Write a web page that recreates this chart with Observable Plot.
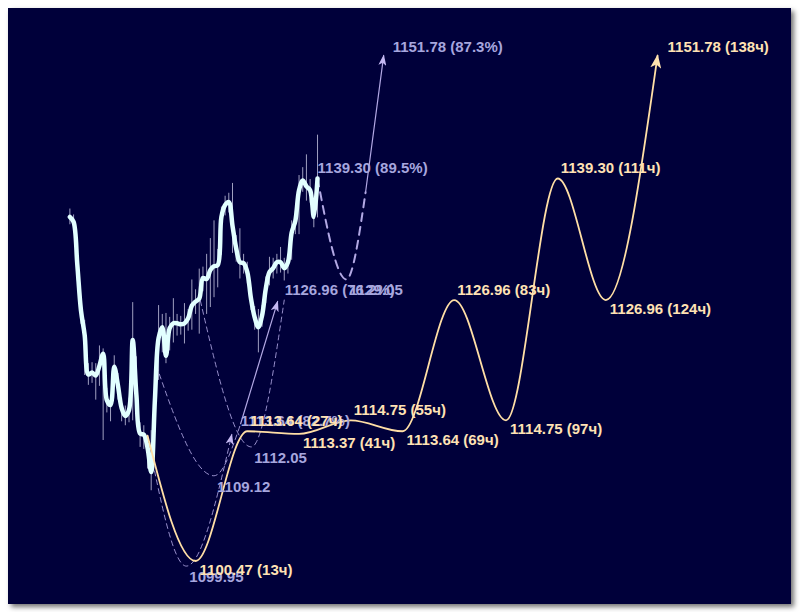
<!DOCTYPE html>
<html><head><meta charset="utf-8">
<script src="https://cdn.jsdelivr.net/npm/d3@7"></script>
<script src="https://cdn.jsdelivr.net/npm/@observablehq/plot@0.6"></script>
<style>
html,body{margin:0;padding:0;background:#fff;}
#wrap{position:relative;width:800px;height:612px;overflow:hidden;}
#panel{position:absolute;left:8px;top:8px;width:783px;height:596px;background:#00003a;box-shadow:3px 3px 5px rgba(0,0,0,0.55);}
#chart{position:absolute;left:0;top:0;}
</style></head><body>
<div id="wrap"><div id="panel"></div><div id="chart"></div></div>
<script>
// ---- price bars (hour index relative to forecast start) ----
const barHours = [-21,-20,-19,-18,-17,-16,-15,-14,-13,-12,-11,-10,-9,-8,-7,-6,-5,-4,-3,-2,-1,0,1,2,3,4,5,6,7,8,9,10,11,12,13,14,15,16,17,18,19,20,21,22,23,24,25,26,27,28,29,30,31,32,33,34,35,36,37,38,39,40,41,42,43,44,45,46];
const barClose = [1135.4,1134.9,1130.6,1125.9,1123.4,1119.4,1119.6,1119.3,1120.3,1121.5,1116.8,1116.3,1120.2,1118.3,1116.0,1115.2,1115.8,1122.9,1117.3,1113.4,1113.3,1112.0,1109.5,1116.8,1123.1,1124.2,1121.3,1124.1,1124.6,1124.6,1124.5,1124.6,1125.1,1126.4,1126.8,1127.1,1129.2,1129.1,1130.0,1130.4,1130.5,1135.4,1136.6,1136.9,1134.5,1132.2,1130.8,1130.7,1129.8,1127.1,1125.2,1124.2,1125.4,1128.1,1129.8,1130.2,1130.8,1130.8,1130.2,1130.8,1133.8,1135.0,1138.1,1139.1,1138.5,1138.1,1135.4,1139.3];
const barHigh = [1136.2,1135.6,1131.5,1127.0,1124.9,1120.5,1120.6,1120.5,1122.3,1122.0,1118.0,1117.2,1121.3,1119.5,1117.0,1116.2,1117.0,1126.7,1121.2,1114.5,1114.2,1113.0,1113.7,1118.5,1126.4,1125.5,1125.6,1125.2,1127.1,1125.5,1125.3,1126.6,1126.0,1129.0,1128.0,1130.1,1130.3,1131.6,1133.2,1135.0,1132.1,1136.4,1137.5,1137.8,1138.8,1133.5,1134.2,1131.6,1130.8,1128.2,1126.3,1126.0,1126.4,1129.3,1131.3,1131.2,1131.6,1132.3,1131.2,1131.6,1135.0,1136.0,1139.6,1140.4,1141.7,1139.2,1137.0,1143.7];
const barLow = [1134.6,1133.8,1128.9,1124.5,1119.3,1118.3,1118.5,1116.8,1118.2,1112.7,1115.5,1114.6,1118.6,1116.8,1114.6,1114.2,1114.5,1114.7,1116.2,1112.0,1111.8,1109.8,1107.6,1113.5,1118.8,1121.6,1120.5,1121.8,1122.6,1123.3,1123.4,1122.5,1123.8,1123.9,1125.5,1123.5,1127.8,1125.5,1126.2,1127.2,1128.2,1131.5,1135.5,1135.8,1131.7,1130.8,1129.1,1129.6,1128.6,1125.9,1123.9,1121.6,1124.2,1126.6,1128.4,1129.1,1129.6,1129.7,1128.9,1129.6,1131.0,1133.6,1133.6,1137.9,1137.0,1136.8,1134.3,1135.3];

// ---- main (yellow) forecast ----
const fcHours = [0, 13, 27, 41, 55, 69, 83, 97, 111, 124, 138];
const fcPrice = [1113.2, 1100.47, 1113.64, 1113.37, 1114.75, 1113.64, 1126.96, 1114.75, 1139.30, 1126.96, 1151.78];
const fcSide  = ["", "down", "up", "down", "up", "down", "up", "down", "up", "down", "end"];

// ---- alternative (lavender) scenarios ----
const lavId = ["B","B","B","A","A","A","C","C","C","D","D","E","E","E","F","F"];
const lavT  = [0, 10.5, 22.8, 2.4, 18, 25.2, 14.3, 28.1, 37, 25.2, 35.2, 46, 53.8, 59, 59, 63.9];
const lavP  = [1113.2, 1099.95, 1113.3, 1120.3, 1109.12, 1114.4, 1126.9, 1112.05, 1126.96, 1114.4, 1126.8, 1139.30, 1129.05, 1137.9, 1137.9, 1151.78];
const lavLabT = [10.5, 18, 28.1, 24.4, 36.3, 53.8, 45.2, 63.9];
const lavLabP = [1099.95, 1109.12, 1112.05, 1113.64, 1126.96, 1129.05, 1139.30, 1151.78];
const lavLabText = ["1099.95", "1109.12", "1112.05", "1113.64 (82.7%)", "1126.96 (76.2%)", "1129.05", "1139.30 (89.5%)", "1151.78 (87.3%)"];
const lavLabSide = ["down", "down", "down", "up", "up", "down", "up", "end"];

// ---- tables ----
const bars = barHours.map((t, i) => ({t, close: barClose[i], high: barHigh[i], low: barLow[i]}));
const fc = fcHours.map((t, i) => ({t, p: fcPrice[i], side: fcSide[i], label: i ? `${fcPrice[i].toFixed(2)} (${t}ч)` : ""}));
const lav = lavId.map((id, i) => ({id, t: lavT[i], p: lavP[i]}));
const lavLab = lavLabT.map((t, i) => ({t, p: lavLabP[i], text: lavLabText[i], side: lavLabSide[i]}));

// ---- scales ----
const X0 = 147, XS = 3.696, Y0 = 178, YS = 9.85, P0 = 1139.30;
const xDom = [-22, 175], yDom = [1095, 1160];

const YEL = "#ffdfa6", YEL_T = "#ffe2b4", LAV = "#b2a8e4", LAV_T = "#a6a6de";
const font = {fontFamily: "'Liberation Sans', Arial, sans-serif", fontSize: 15, fontWeight: "bold", textAnchor: "start"};

const chart = Plot.plot({
  width: 800, height: 612, margin: 0,
  style: {background: "transparent", overflow: "visible"},
  x: {domain: xDom, range: xDom.map(t => X0 + XS * t), axis: null},
  y: {domain: yDom, range: yDom.map(p => Y0 - (p - P0) * YS), axis: null},
  marks: [
    Plot.line(lav, {filter: d => d.id === "A" || d.id === "C", x: "t", y: "p", z: "id", stroke: LAV, strokeWidth: 1, strokeOpacity: 0.85, strokeDasharray: "5,4", curve: "monotone-x"}),
    Plot.line(lav, {filter: d => d.id === "B", x: "t", y: "p", stroke: LAV, strokeWidth: 1, strokeOpacity: 0.85, strokeDasharray: "5,4", curve: "monotone-x", ariaDescription: "lav-b"}),
    Plot.line(lav, {filter: d => d.id === "E", x: "t", y: "p", stroke: LAV, strokeWidth: 2, strokeDasharray: "8,6", curve: "monotone-x"}),
    Plot.line(lav, {filter: d => d.id === "D" || d.id === "F", x: "t", y: "p", z: "id", stroke: LAV, strokeWidth: 1.2, ariaDescription: "lav-solid"}),
    Plot.ruleX(bars, {x: "t", y1: "low", y2: "high", stroke: "#d4d4ee", strokeOpacity: 0.75, strokeWidth: 1}),
    Plot.line(bars, {x: "t", y: "close", stroke: "#e2ffff", strokeWidth: 4.5, curve: "catmull-rom", strokeLinejoin: "round"}),
    Plot.line(fc, {x: "t", y: "p", stroke: YEL, strokeWidth: 1.8, curve: "monotone-x", ariaDescription: "fc-line"}),
    Plot.text(lavLab, {filter: d => d.side === "down", x: "t", y: "p", text: "text", fill: LAV_T, dx: 3, dy: 11, ...font}),
    Plot.text(lavLab, {filter: d => d.side === "up", x: "t", y: "p", text: "text", fill: LAV_T, dx: 3, dy: -10, ...font}),
    Plot.text(lavLab, {filter: d => d.side === "end", x: "t", y: "p", text: "text", fill: LAV_T, dx: 9, dy: -8, ...font}),
    Plot.text(fc, {filter: d => d.side === "down", x: "t", y: "p", text: "label", fill: YEL_T, dx: 4, dy: 9, ...font}),
    Plot.text(fc, {filter: d => d.side === "up", x: "t", y: "p", text: "label", fill: YEL_T, dx: 3, dy: -10, ...font}),
    Plot.text(fc, {filter: d => d.side === "end", x: "t", y: "p", text: "label", fill: YEL_T, dx: 10, dy: -8, ...font})
  ]
});
document.getElementById("chart").appendChild(chart);

// arrowheads
const ns = "http://www.w3.org/2000/svg";
const defs = document.createElementNS(ns, "defs");
function addMarker(id, color, w, h) {
  const m = document.createElementNS(ns, "marker");
  m.setAttribute("id", id);
  m.setAttribute("viewBox", "0 0 10 10");
  m.setAttribute("refX", "9");
  m.setAttribute("refY", "5");
  m.setAttribute("markerUnits", "userSpaceOnUse");
  m.setAttribute("markerWidth", w);
  m.setAttribute("markerHeight", h);
  m.setAttribute("orient", "auto");
  m.setAttribute("preserveAspectRatio", "none");
  const p = document.createElementNS(ns, "path");
  p.setAttribute("d", "M0,0L10,5L0,10L2.5,5Z");
  p.setAttribute("fill", color);
  m.appendChild(p);
  defs.appendChild(m);
}
addMarker("arrY", "#ffe2b0", 14, 11);
addMarker("arrL", "#c4b8f2", 11, 8);
chart.insertBefore(defs, chart.firstChild);
chart.querySelectorAll('g[aria-description="fc-line"] path').forEach(p => p.setAttribute("marker-end", "url(#arrY)"));
chart.querySelectorAll('g[aria-description="lav-solid"] path, g[aria-description="lav-b"] path').forEach(p => p.setAttribute("marker-end", "url(#arrL)"));
</script>
</body></html>
